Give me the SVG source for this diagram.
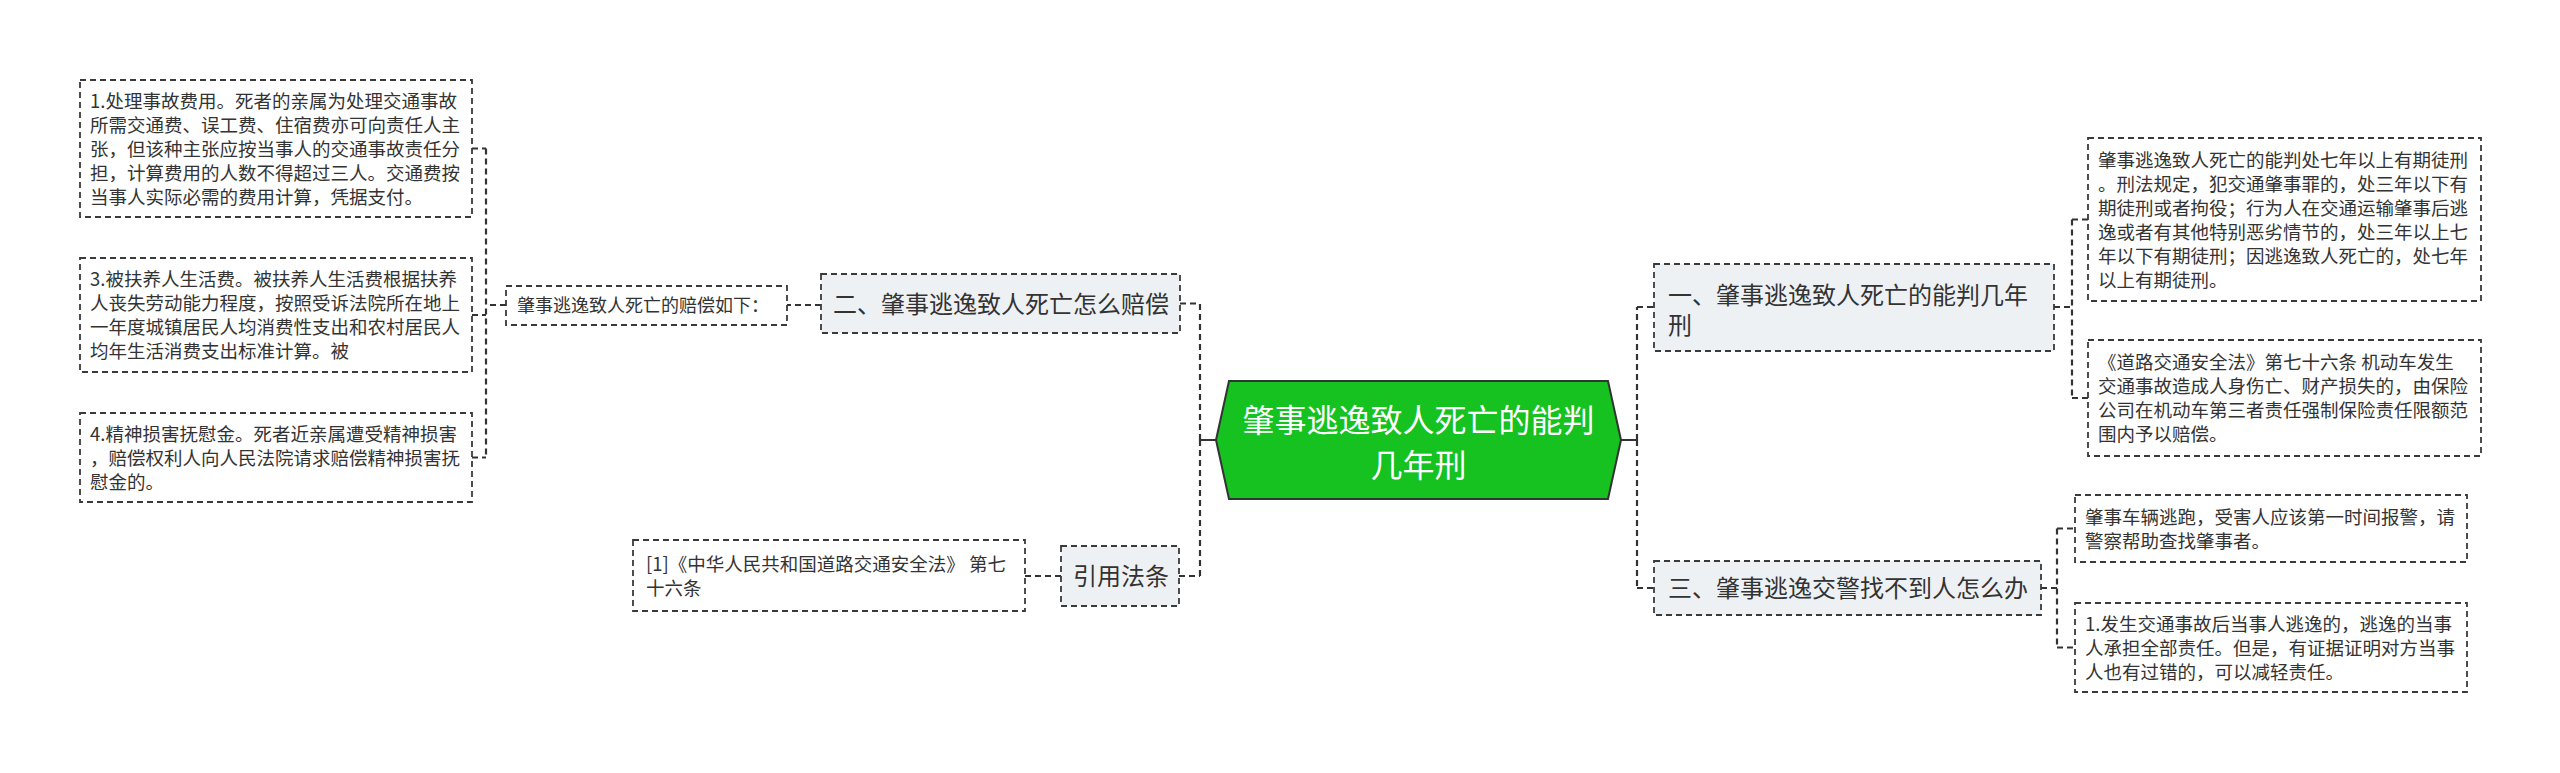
<svg xmlns="http://www.w3.org/2000/svg" width="2560" height="773" viewBox="0 0 2560 773">
<style>
text{font-family:"Noto Sans CJK SC","Noto Sans",sans-serif;fill:#333}
.leaf{fill:#fff;stroke:#3a3a3a;stroke-width:1.8;stroke-dasharray:6,4}
.main{fill:#eef1f4;stroke:#3a3a3a;stroke-width:1.8;stroke-dasharray:6,4}
.t{font-size:18.5px}
.s{font-size:18px}
.m{font-size:24px}
.c{font-size:32px;fill:#fff}
.dl{fill:none;stroke:#333;stroke-width:2.2;stroke-dasharray:6,4}
.sl{fill:none;stroke:#333;stroke-width:2}
</style>
<rect width="2560" height="773" fill="#fff"/>
<g id="connectors">
<path class="sl" d="M1216,440H1200M1621,440H1637"/>
<path class="dl" d="M1200,440V303.5M1200,440V576M1180,303.5H1200M1179,576H1200"/>
<path class="dl" d="M821,305H787M506,305H486M486,148.5V457.5M472,148.5H486M472,315H486M472,457.5H486"/>
<path class="dl" d="M1061,576H1025"/>
<path class="dl" d="M1637,440V307M1637,440V588M1637,307H1654M1637,588H1654"/>
<path class="dl" d="M2054,307H2072M2072,219.5V398M2072,219.5H2088M2072,398H2088"/>
<path class="dl" d="M2041,588H2057M2057,528.5V647.5M2057,528.5H2075M2057,647.5H2075"/>
</g>
<g id="center">
<polygon points="1216,440 1229,381 1608,381 1621,440 1608,499 1229,499" fill="#15c21f" stroke="#333" stroke-width="2"/>
<text class="c" x="1418.5" y="432" text-anchor="middle">肇事逃逸致人死亡的能判</text>
<text class="c" x="1418.5" y="477" text-anchor="middle">几年刑</text>
</g>
<g id="n2">
<rect class="main" x="821" y="274" width="359" height="59"/>
<text class="m" x="833" y="312.5">二、肇事逃逸致人死亡怎么赔偿</text>
</g>
<g id="n2a">
<rect class="leaf" x="506" y="286" width="281" height="39"/>
<text class="s" x="517" y="312">肇事逃逸致人死亡的赔偿如下：</text>
</g>
<g id="n2a1">
<rect class="leaf" x="80" y="80" width="392" height="137"/>
<text class="t" x="90" y="107.5">1.处理事故费用。死者的亲属为处理交通事故</text>
<text class="t" x="90" y="131.5">所需交通费、误工费、住宿费亦可向责任人主</text>
<text class="t" x="90" y="155.5">张，但该种主张应按当事人的交通事故责任分</text>
<text class="t" x="90" y="179.5">担，计算费用的人数不得超过三人。交通费按</text>
<text class="t" x="90" y="203.5">当事人实际必需的费用计算，凭据支付。</text>
</g>
<g id="n2a2">
<rect class="leaf" x="80" y="258" width="392" height="114"/>
<text class="t" x="90" y="286">3.被扶养人生活费。被扶养人生活费根据扶养</text>
<text class="t" x="90" y="310">人丧失劳动能力程度，按照受诉法院所在地上</text>
<text class="t" x="90" y="334">一年度城镇居民人均消费性支出和农村居民人</text>
<text class="t" x="90" y="358">均年生活消费支出标准计算。被</text>
</g>
<g id="n2a3">
<rect class="leaf" x="80" y="413" width="392" height="89"/>
<text class="t" x="90" y="440.5">4.精神损害抚慰金。死者近亲属遭受精神损害</text>
<text class="t" x="90" y="464.5">，赔偿权利人向人民法院请求赔偿精神损害抚</text>
<text class="t" x="90" y="488.5">慰金的。</text>
</g>
<g id="ref">
<rect class="main" x="1061" y="546" width="118" height="60"/>
<text class="m" x="1073" y="585">引用法条</text>
</g>
<g id="ref1">
<rect class="leaf" x="633" y="540" width="392" height="71"/>
<text class="t" x="646" y="570.5">[1]《中华人民共和国道路交通安全法》 第七</text>
<text class="t" x="646" y="594.5">十六条</text>
</g>
<g id="n1">
<rect class="main" x="1654" y="264" width="400" height="87"/>
<text class="m" x="1668" y="304">一、肇事逃逸致人死亡的能判几年</text>
<text class="m" x="1668" y="334">刑</text>
</g>
<g id="n1a">
<rect class="leaf" x="2088" y="138" width="393" height="163"/>
<text class="t" x="2098" y="166.5">肇事逃逸致人死亡的能判处七年以上有期徒刑</text>
<text class="t" x="2098" y="190.5">。刑法规定，犯交通肇事罪的，处三年以下有</text>
<text class="t" x="2098" y="214.5">期徒刑或者拘役；行为人在交通运输肇事后逃</text>
<text class="t" x="2098" y="238.5">逸或者有其他特别恶劣情节的，处三年以上七</text>
<text class="t" x="2098" y="262.5">年以下有期徒刑；因逃逸致人死亡的，处七年</text>
<text class="t" x="2098" y="286.5">以上有期徒刑。</text>
</g>
<g id="n1b">
<rect class="leaf" x="2088" y="340" width="393" height="116"/>
<text class="t" x="2098" y="369">《道路交通安全法》第七十六条 机动车发生</text>
<text class="t" x="2098" y="393">交通事故造成人身伤亡、财产损失的，由保险</text>
<text class="t" x="2098" y="417">公司在机动车第三者责任强制保险责任限额范</text>
<text class="t" x="2098" y="441">围内予以赔偿。</text>
</g>
<g id="n3">
<rect class="main" x="1654" y="561" width="387" height="54"/>
<text class="m" x="1668" y="597">三、肇事逃逸交警找不到人怎么办</text>
</g>
<g id="n3a">
<rect class="leaf" x="2075" y="495" width="392" height="67"/>
<text class="t" x="2085" y="523.5">肇事车辆逃跑，受害人应该第一时间报警，请</text>
<text class="t" x="2085" y="547.5">警察帮助查找肇事者。</text>
</g>
<g id="n3b">
<rect class="leaf" x="2075" y="603" width="392" height="89"/>
<text class="t" x="2085" y="630.5">1.发生交通事故后当事人逃逸的，逃逸的当事</text>
<text class="t" x="2085" y="654.5">人承担全部责任。但是，有证据证明对方当事</text>
<text class="t" x="2085" y="678.5">人也有过错的，可以减轻责任。</text>
</g>
</svg>
